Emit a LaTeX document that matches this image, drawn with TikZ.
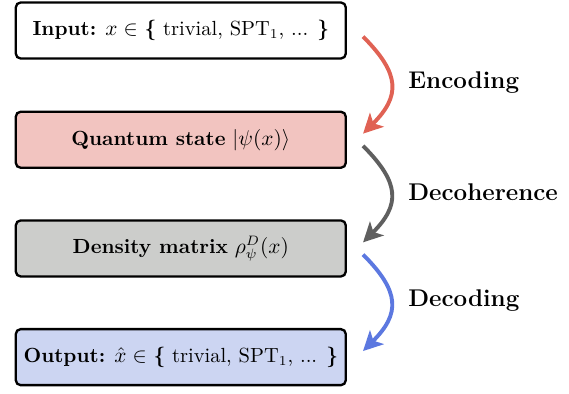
\documentclass[tikz,border=0pt]{standalone}
\usetikzlibrary{arrows.meta,calc}

\definecolor{encred}{RGB}{224,98,84}
\definecolor{decgray}{RGB}{95,95,95}
\definecolor{decblue}{RGB}{92,120,224}
\definecolor{statefill}{RGB}{242,196,192}
\definecolor{rhofill}{RGB}{204,205,203}
\definecolor{outfill}{RGB}{204,213,242}

\begin{document}
\begin{tikzpicture}[
    stage/.style={draw, line width=1.2pt, rounded corners=2.5pt, minimum width=5.95cm, minimum height=1.01cm, font=\fontsize{10.5}{12}\selectfont},
    flow/.style={line width=2pt, -{Stealth[length=10pt, width=10pt, inset=2.5pt]}, out=-45, in=45, looseness=1.4},
    tag/.style={anchor=west, inner sep=0pt, font=\fontsize{12.4}{14}\selectfont\bfseries}]
    \useasboundingbox (0, 0) rectangle (10.26, 7.10);

    \node (in)    at (3.26, 6.55) [stage] {\textbf{Input:} $x \in$ \textbf{\{} trivial, SPT$_1$, ... \textbf{\}}};
    \node (state) at (3.26, 4.58) [stage, fill=statefill] {\textbf{Quantum state} $|\psi(x)\rangle$};
    \node (rho)   at (3.26, 2.62) [stage, fill=rhofill] {\textbf{Density matrix} $\rho_\psi^D(x)$};
    \node (out)   at (3.26, 0.66) [stage, fill=outfill] {\textbf{Output:} $\hat{x} \in$ \textbf{\{} trivial, SPT$_1$, ... \textbf{\}}};

    \coordinate (a0) at ($(in.east)    + (0.29, -0.11)$);
    \coordinate (a1) at ($(state.east) + (0.29,  0.11)$);
    \coordinate (b0) at ($(state.east) + (0.29, -0.11)$);
    \coordinate (b1) at ($(rho.east)   + (0.29,  0.11)$);
    \coordinate (c0) at ($(rho.east)   + (0.29, -0.11)$);
    \coordinate (c1) at ($(out.east)   + (0.29,  0.11)$);

    \draw[flow, encred]  (a0) to (a1);
    \draw[flow, decgray] (b0) to (b1);
    \draw[flow, decblue] (c0) to (c1);

    \node (enc) at ($(in.east)!0.5!(state.east) + (1.1, 0.04)$) [tag] {Encoding};
    \node (dch) at ($(state.east)!0.5!(rho.east) + (1.1, 0.04)$) [tag] {Decoherence};
    \node (dec) at ($(rho.east)!0.5!(out.east) + (1.1, 0.04)$) [tag] {Decoding};
\end{tikzpicture}
\end{document}
